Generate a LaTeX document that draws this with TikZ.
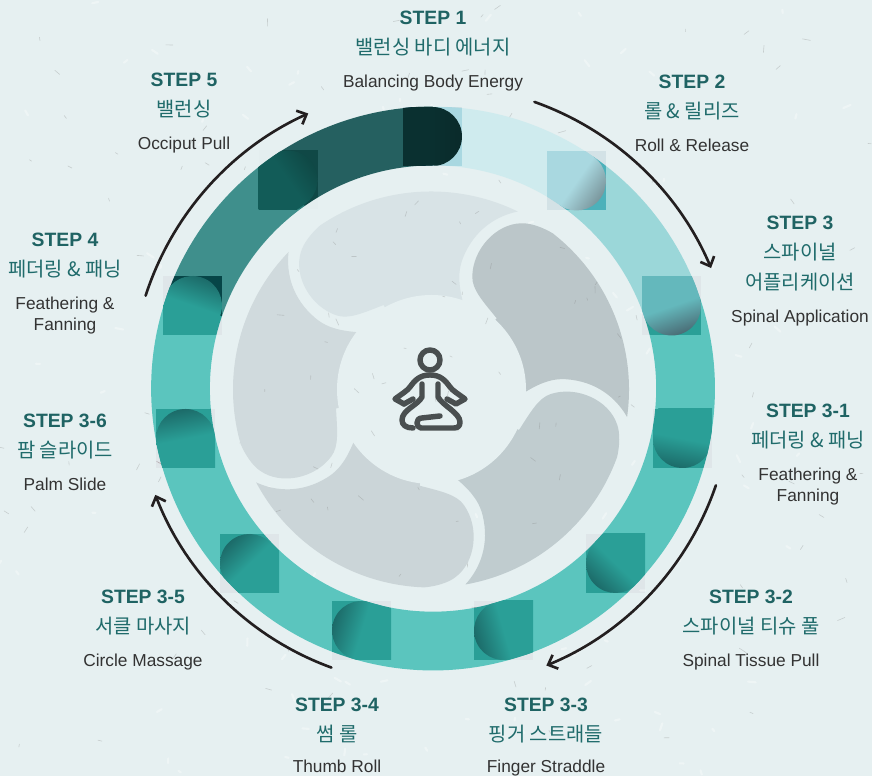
\documentclass[tikz,border=0pt]{standalone}
\usepackage{fontspec}
\setmainfont{Liberation Sans}
\newfontfamily\korfont{Noto Sans CJK KR}
\usetikzlibrary{arrows.meta, positioning, calc}
\definecolor{paper}{HTML}{E6F0F1}
\definecolor{headteal}{HTML}{1F6363}
\definecolor{kortext}{HTML}{1F6B6B}
\definecolor{engtext}{HTML}{333333}
\definecolor{curve}{HTML}{231F20}
\definecolor{icongray}{HTML}{4A4F50}
\definecolor{segA}{HTML}{CFEBEE}
\definecolor{segB}{HTML}{9BD7D9}
\definecolor{segC}{HTML}{5BC5BE}
\definecolor{segD}{HTML}{3F8F8C}
\definecolor{segE}{HTML}{256060}
\definecolor{burnA}{HTML}{8E828C}
\definecolor{burnC}{HTML}{C4999F}
\definecolor{burnE}{HTML}{E8DDDA}
\definecolor{baseA}{HTML}{0A3030}
\definecolor{tipA}{HTML}{0A2A2A}
\definecolor{baseB}{HTML}{A9D8E0}
\definecolor{tipB}{HTML}{7A969C}
\definecolor{baseC}{HTML}{64B8BC}
\definecolor{tipC}{HTML}{4A6C75}
\definecolor{baseD}{HTML}{2A9F97}
\definecolor{tipD}{HTML}{1C6B69}
\definecolor{baseE}{HTML}{125C58}
\definecolor{tipE}{HTML}{0F4845}
\definecolor{petalA}{HTML}{BBC6C9}
\definecolor{petalB}{HTML}{D8E3E6}
\definecolor{petalC}{HTML}{D0DADD}
\definecolor{petalD}{HTML}{CBD5D8}
\definecolor{petalE}{HTML}{C0CCCF}
\newcommand{\stepf}{\fontsize{11}{17}\selectfont\bfseries\color{headteal}}
\newcommand{\korf}{\fontsize{11.3}{17}\korfont\selectfont\color{kortext}}
\newcommand{\engf}{\fontsize{9.85}{17}\selectfont\color{engtext}}

\begin{document}
\begin{tikzpicture}[
    x=0.02cm, y=0.02cm,
    lab/.style   = {anchor=north, align=center, inner sep=0pt,
                    font=\fontsize{10}{17}\selectfont},
    cyc/.style   = {-{Straight Barb[length=4.5pt,width=8.5pt]}, line width=1.5pt,
                    line cap=round, color=curve},
    sqr/.style   = {blend mode=color burn},
    speck/.style = {gray, line width=0.35pt, opacity=0.3, line cap=round},
    mott/.style  = {white, line width=1.2pt, opacity=0.35, line cap=round},
    fig/.style   = {icongray, line width=3.1pt, line cap=round, line join=round},
  ]
    \useasboundingbox (0,0) rectangle (872,776);
    \fill[paper] (0,0) rectangle (872,776);
    \coordinate (hub) at (433,387.5);
    \coordinate (core) at (431,386.5);

    % ── Paper specks ─────────────────────────────────────────
    \pgfmathsetseed{4217}
    \foreach \i in {1,...,120} {
      \pgfmathsetmacro{\px}{872*rnd}
      \pgfmathsetmacro{\py}{776*rnd}
      \pgfmathsetmacro{\pa}{360*rnd}
      \pgfmathsetmacro{\pl}{2+6*rnd}
      \draw[mott] (\px,\py) -- ++(\pa:\pl);
      \pgfmathsetmacro{\px}{872*rnd}
      \pgfmathsetmacro{\py}{776*rnd}
      \draw[speck] (\px,\py) -- ++(\pa:\pl);
    }

    % ── Ring ─────────────────────────────────────────────────
    \foreach \a/\b/\c in {90/55.4/segA, 55.4/19/segB, 19/-199/segC, 161/125/segD, 125/90/segE}
      \draw[line width=33.45pt, color=\c] (hub) ++(\a:252.5)
        arc[start angle=\a, end angle=\b, radius=252.5];

    % ── Step squares ─────────────────────────────────────────
    \foreach \cx/\cy/\ang/\cbase/\ctip/\cburn [evaluate=\ang as \shang using \ang-90] in {
        432.5/639.5/0/baseA/tipA/burnA, 576.5/595/-35/baseB/tipB/burnA, 671.5/470/-71/baseC/tipC/burnC,
        682.5/337.5/-101/baseD/tipD/burnC, 615.5/212.5/-134/baseD/tipD/burnC, 503.5/145.5/-164/baseD/tipD/burnC,
        361.5/145.5/163/baseD/tipD/burnC, 249.5/212.5/134/baseD/tipD/burnC, 185.5/337.5/101/baseD/tipD/burnC,
        192.5/470.5/71/baseD/tipD/burnC, 288/596/35/baseE/tipE/burnE} {
      \fill[sqr, fill=\cburn] (\cx-29.5,\cy-29.5) rectangle ++(59,59);
      \begin{scope}[even odd rule]
        \clip (hub) circle[radius=282] (hub) circle[radius=223];
        \clip ($(\cx,\cy)+(\ang-90:29.5)$)
          arc[start angle=\ang-90, end angle=\ang+90, radius=29.5]
          -- ++(\ang+180:60) -- ++(\ang-90:59) -- cycle;
        \shade[top color=\ctip, bottom color=\cbase, middle color=\cbase, shading angle=\shang]
          (\cx-29.5,\cy-29.5) rectangle ++(59,59);
      \end{scope}
    }

    % ── Petals and centre ────────────────────────────────────
    \foreach \r/\c in {0/petalA, 72/petalB, 144/petalC, 216/petalD, 288/petalE}
      \fill[\c, shift={(core)}, rotate=\r] (52:198)
        arc[start angle=52, end angle=-8, radius=198]
        .. controls (185,-8) and (165,8) .. (135.7,10.2)
        .. controls (118,11.5) and (105,4) .. (90,-5)
        -- (60,65) -- (65.7,71.2)
        .. controls (52,88) and (41,100) .. (41.3,112.8)
        .. controls (41.5,140) and (65,166) .. (90.7,166.2)
        .. controls (100,166.5) and (112,162) .. (122,156) -- cycle;
    \fill[paper] (core) ++(0.5,0) circle[radius=94.5];
    \begin{scope}
      \clip (core) circle[radius=198];
      \foreach \i in {1,...,60} {
        \pgfmathsetmacro{\px}{233+396*rnd}
        \pgfmathsetmacro{\py}{189+396*rnd}
        \pgfmathsetmacro{\pa}{360*rnd}
        \pgfmathsetmacro{\pl}{2+5*rnd}
        \draw[speck] (\px,\py) -- ++(\pa:\pl);
      }
    \end{scope}

    % ── Seated figure ────────────────────────────────────────
    \begin{scope}[shift={(430,376)}]
      \draw[fig] (0,40) circle[radius=10];
      \draw[fig] (-26,-4) -- (-35,1) .. controls (-27,7) and (-23,9) .. (-20,13)
        .. controls (-15,20) and (-10,25) .. (0,25)
        .. controls (10,25) and (15,20) .. (20,13)
        .. controls (23,9) and (27,7) .. (35,1) -- (26,-4) -- (17,1);
      \draw[fig] (-26,-4) -- (-17,1);
      \draw[fig] (-8,16) -- (-8,3) .. controls (-12,-5) and (-28,-10) .. (-28,-20)
        .. controls (-28,-25) and (-24,-28) .. (-17,-28);
      \draw[fig] (8,16) -- (8,3) .. controls (12,-5) and (30,-13) .. (30,-22)
        .. controls (30,-26) and (28,-28) .. (24,-28) -- (-9,-28)
        .. controls (-14,-28) and (-15,-18) .. (-8,-18) -- (10,-16);
    \end{scope}

    % ── Cycle arrows ─────────────────────────────────────────
    \draw[cyc] (hub) ++(70.5:304) arc[start angle=70.5, end angle=23, radius=301];
    \draw[cyc] (hub) ++(-18.9:299) arc[start angle=-18.9, end angle=-67.6, radius=300];
    \draw[cyc] (hub) ++(-110:297) arc[start angle=-110, end angle=-158.9, radius=298];
    \draw[cyc] (hub) ++(162.1:302) arc[start angle=162.1, end angle=114.4, radius=302];

    % ── Step labels ──────────────────────────────────────────
    \node[lab] (step1) at (433,765) {{\stepf STEP 1}\\{\korf 밸런싱 바디 에너지}\\[1.7pt]{\engf Balancing Body Energy}};
    \node[lab] (step2) at (692,701) {{\stepf STEP 2}\\{\korf 롤 \& 릴리즈}\\[1.7pt]{\engf Roll \& Release}};
    \node[lab] (step3) at (800,560) {{\stepf STEP 3}\\{\korf 스파이널}\\{\korf 어플리케이션}\\[1.7pt]{\engf Spinal Application}};
    \node[lab] (step31) at (808,372) {{\stepf STEP 3-1}\\{\korf 페더링 \& 패닝}\\[1.7pt]{\engf Feathering \&}\\[-5.1pt]{\engf Fanning}};
    \node[lab] (step32) at (751,186) {{\stepf STEP 3-2}\\{\korf 스파이널 티슈 풀}\\[1.7pt]{\engf Spinal Tissue Pull}};
    \node[lab] (step33) at (546,78) {{\stepf STEP 3-3}\\{\korf 핑거 스트래들}\\[0.6pt]{\engf Finger Straddle}};
    \node[lab] (step34) at (337,78) {{\stepf STEP 3-4}\\{\korf 썸 롤}\\[0.6pt]{\engf Thumb Roll}};
    \node[lab] (step35) at (143,186) {{\stepf STEP 3-5}\\{\korf 서클 마사지}\\[1.7pt]{\engf Circle Massage}};
    \node[lab] (step36) at (65,362) {{\stepf STEP 3-6}\\{\korf 팜 슬라이드}\\[1.7pt]{\engf Palm Slide}};
    \node[lab] (step4) at (65,543) {{\stepf STEP 4}\\{\korf 페더링 \& 패닝}\\[1.7pt]{\engf Feathering \&}\\[-5.1pt]{\engf Fanning}};
    \node[lab] (step5) at (184,703) {{\stepf STEP 5}\\{\korf 밸런싱}\\[1.7pt]{\engf Occiput Pull}};

  \end{tikzpicture}
\end{document}
